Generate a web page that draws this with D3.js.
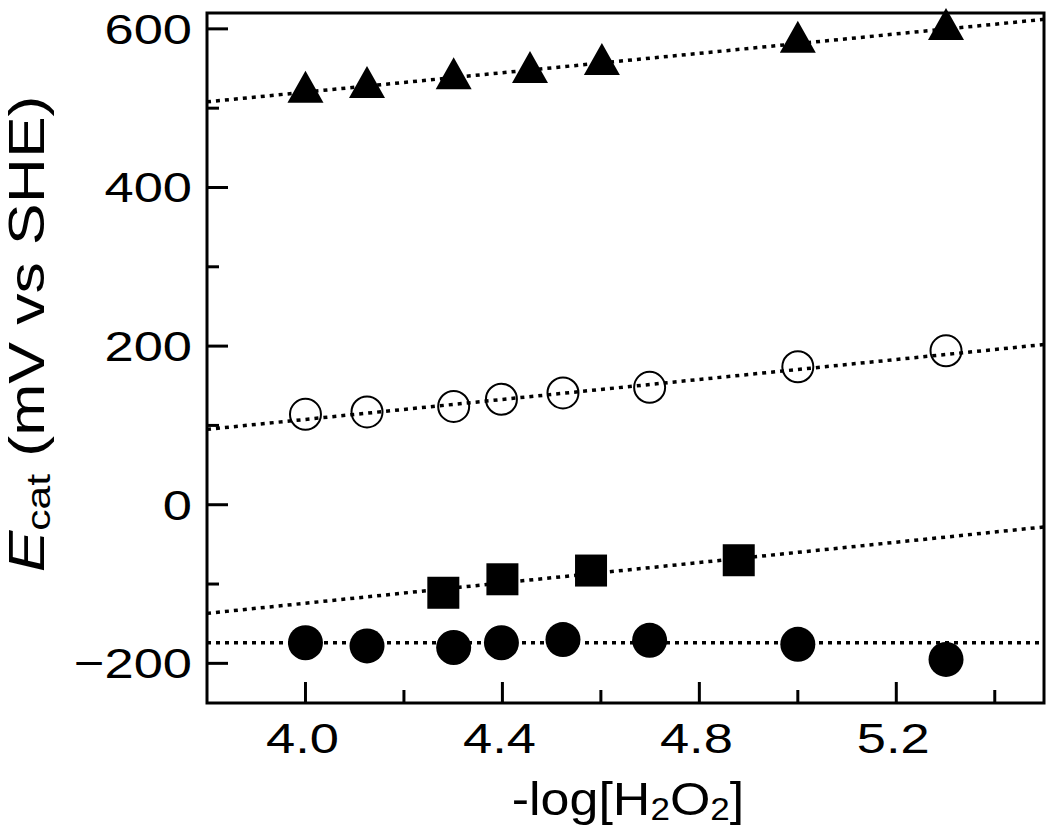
<!DOCTYPE html>
<html><head><meta charset="utf-8">
<script src="https://cdn.jsdelivr.net/npm/d3@7"></script>
<style>body{margin:0;background:#fff}text{font-family:"Liberation Sans",Arial,Helvetica,sans-serif;fill:#000}</style>
</head><body><svg id="c" width="1050" height="833"></svg>
<script>
// ---- data ----
const triX = [4.0, 4.125, 4.301, 4.456, 4.602, 5.0, 5.301];
const triY = [527, 533, 544, 552, 562, 590, 606];
const openX = [4.0, 4.125, 4.301, 4.398, 4.523, 4.699, 5.0, 5.301];
const openY = [114, 117, 124, 133, 141, 148, 174, 194];
const sqX = [4.28, 4.40, 4.58, 4.88];
const sqY = [-111, -94, -83, -70];
const dotX = [4.0, 4.125, 4.301, 4.398, 4.523, 4.699, 5.0, 5.301];
const dotY = [-174, -178, -180, -174, -170, -171, -176, -195];
const fitTri = [[3.8, 508], [5.5, 612]];
const fitOpen = [[3.8, 95], [5.5, 202]];
const fitSq = [[3.8, -137], [5.5, -28]];
const fitDot = [[3.8, -174], [5.5, -174]];
const xMajor = [4.0, 4.4, 4.8, 5.2];
const xMinor = [4.2, 4.6, 5.0, 5.4];
const yMajor = [-200, 0, 200, 400, 600];
const yMinor = [-100, 100, 300, 500];

const L = 207, R = 1044, T = 13, B = 703;
const x = d3.scaleLinear().domain([3.8, 5.5]).range([L, R]);
const y = d3.scaleLinear().domain([-250, 620]).range([B, T]);
const svg = d3.select('#c');

// ticks
const g = svg.append('g');
const tk = (vals, len, axis) => {
  vals.forEach(v => {
    if (axis === 'x') g.append('line').attr('x1', x(v)).attr('x2', x(v)).attr('y1', B).attr('y2', B - len);
    else g.append('line').attr('y1', y(v)).attr('y2', y(v)).attr('x1', L).attr('x2', L + len);
  });
};
tk(xMajor, 21, 'x'); tk(xMinor, 13, 'x'); tk(yMajor, 21, 'y'); tk(yMinor, 12, 'y');
g.selectAll('line').attr('stroke', '#000').attr('stroke-width', 3);

const SX = 1.22;
xMajor.forEach(v => svg.append('text').attr('transform', `translate(${x(v) - 3},753) scale(${SX},1)`)
  .attr('text-anchor', 'middle').attr('font-size', 43).text(d3.format('.1f')(v)));
yMajor.forEach(v => svg.append('text').attr('transform', `translate(192,${y(v) + 15}) scale(${SX},1)`)
  .attr('text-anchor', 'end').attr('font-size', 43).text(v < 0 ? '\u2212' + Math.abs(v) : String(v)));

// fit lines
const line = d3.line().x(d => x(d[0])).y(d => y(d[1]));
[fitTri, fitOpen, fitSq, fitDot].forEach(f => svg.append('path').attr('d', line(f))
  .attr('fill', 'none').attr('stroke', '#000').attr('stroke-width', 3.5).attr('stroke-dasharray', '4 5'));

// markers
const tri = 'M0,-16L18,16L-18,16Z';
triX.forEach((v, i) => svg.append('path').attr('d', tri)
  .attr('transform', `translate(${x(v)},${y(triY[i])})`).attr('fill', '#000'));
openX.forEach((v, i) => svg.append('circle').attr('cx', x(v)).attr('cy', y(openY[i])).attr('r', 15.5)
  .attr('fill', 'none').attr('stroke', '#000').attr('stroke-width', 2));
sqX.forEach((v, i) => svg.append('rect').attr('x', x(v) - 16).attr('y', y(sqY[i]) - 16)
  .attr('width', 32).attr('height', 32).attr('fill', '#000'));
dotX.forEach((v, i) => svg.append('circle').attr('cx', x(v)).attr('cy', y(dotY[i])).attr('r', 17.5).attr('fill', '#000'));

// frame
svg.append('rect').attr('x', L).attr('y', T).attr('width', R - L).attr('height', B - T)
  .attr('fill', 'none').attr('stroke', '#000').attr('stroke-width', 3);

// axis labels
const xl = svg.append('text').attr('transform', 'translate(628,815) scale(1.13,1)').attr('text-anchor', 'middle').attr('font-size', 46);
xl.append('tspan').text('-log[H');
xl.append('tspan').attr('font-size', 31).attr('dy', 5).text('2');
xl.append('tspan').attr('dy', -5).text('O');
xl.append('tspan').attr('font-size', 31).attr('dy', 5).text('2');
xl.append('tspan').attr('dy', -5).text(']');

const yl = svg.append('text').attr('transform', 'translate(44,334) rotate(-90) scale(1.25,1)').attr('text-anchor', 'middle').attr('font-size', 50);
yl.append('tspan').attr('font-style', 'italic').text('E');
yl.append('tspan').attr('font-size', 34).attr('dy', 6).text('cat');
yl.append('tspan').attr('dy', -6).text(' (mV vs SHE)');
</script></body></html>
